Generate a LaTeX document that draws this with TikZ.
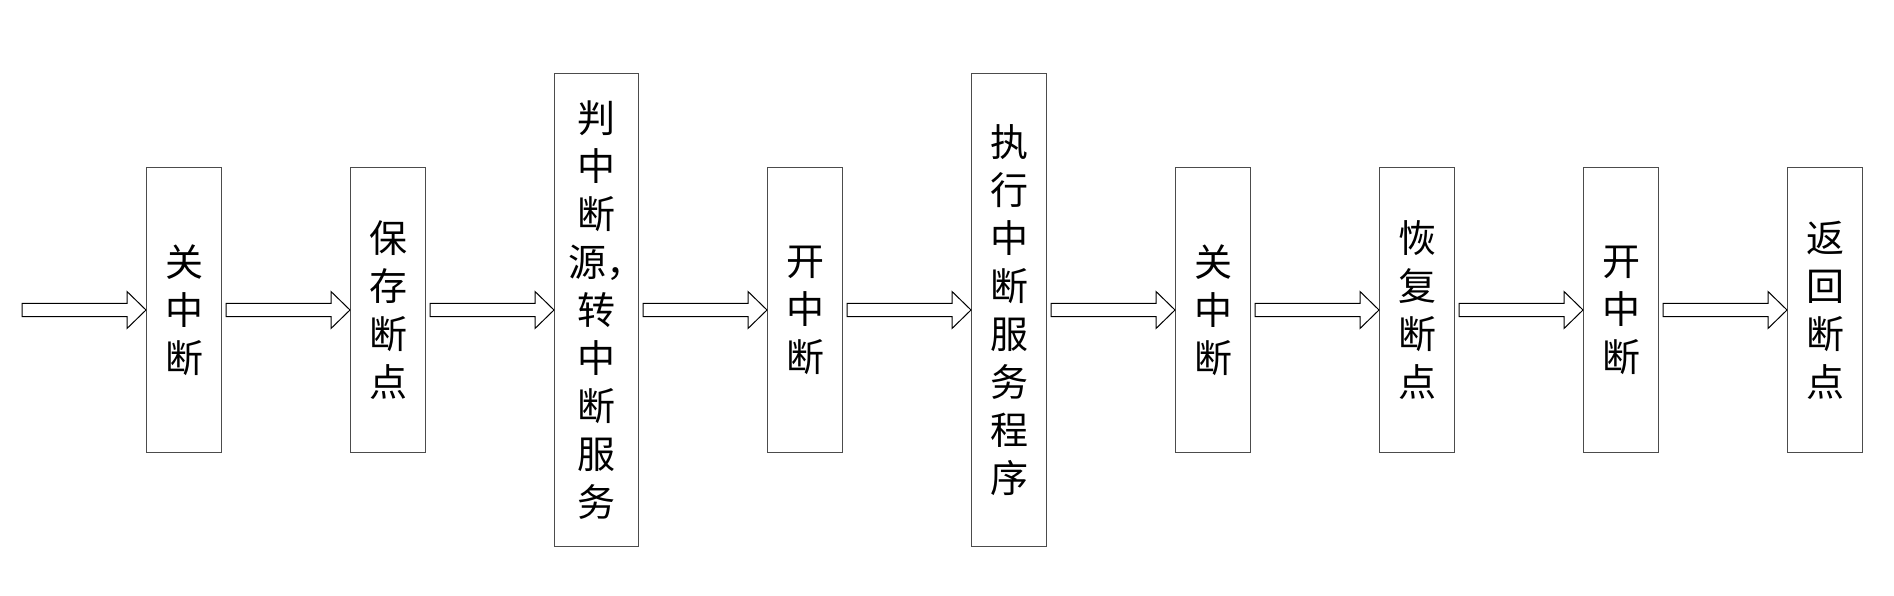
\documentclass[tikz,border=0pt]{standalone}
\usepackage{fontspec}
\newfontfamily\cjk{Noto Sans CJK SC}
\usetikzlibrary{positioning,calc}

% hollow block arrow between two points
\newcommand\fatarrow[2]{%
  \draw[fat] let \p1=#1, \p2=#2 in
    (\x1+2pt,\y2-3.25pt) -- (\x2-9.5pt,\y2-3.25pt) -- (\x2-9.5pt,\y2-9.25pt)
    -- (\p2) -- (\x2-9.5pt,\y2+9.25pt) -- (\x2-9.5pt,\y2+3.25pt)
    -- (\x1+2pt,\y2+3.25pt) -- cycle;}

\begin{document}
\begin{tikzpicture}[x=0.5pt,y=0.5pt,node distance=64pt]
  \useasboundingbox (0,0) rectangle (1894,595);
  \tikzstyle{blk}=[draw=black!70, line width=0.5pt, minimum width=37.5pt, minimum height=142pt,
    inner sep=0pt, align=center, font=\cjk\fontsize{19}{24}\selectfont]
  \tikzstyle{tall}=[blk, minimum height=236pt]
  \tikzstyle{fat}=[draw, line width=0.5pt]
  \coordinate (in) at (18,285);
  \node[blk] (off1) at (184,285) {关\\中\\断};
  \node[blk, right=of off1] (save) {保\\存\\断\\点};
  \node[tall, right=of save, minimum width=42pt] (src)
    {判\\中\\断\\\hspace*{-0.5em}源\rlap{，}\\转\\中\\断\\服\\务};
  \node[blk, right=of src] (on1) {开\\中\\断};
  \node[tall, right=of on1] (isr) {执\\行\\中\\断\\服\\务\\程\\序};
  \node[blk, right=of isr] (off2) {关\\中\\断};
  \node[blk, right=of off2] (rest) {恢\\复\\断\\点};
  \node[blk, right=of rest] (on2) {开\\中\\断};
  \node[blk, right=of on2] (ret) {返\\回\\断\\点};
  \fatarrow{(in)}{(off1.west)}
  \fatarrow{(off1.east)}{(save.west)}
  \fatarrow{(save.east)}{(src.west)}
  \fatarrow{(src.east)}{(on1.west)}
  \fatarrow{(on1.east)}{(isr.west)}
  \fatarrow{(isr.east)}{(off2.west)}
  \fatarrow{(off2.east)}{(rest.west)}
  \fatarrow{(rest.east)}{(on2.west)}
  \fatarrow{(on2.east)}{(ret.west)}
\end{tikzpicture}
\end{document}
